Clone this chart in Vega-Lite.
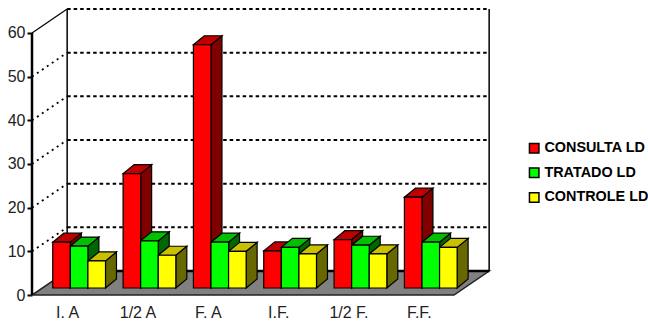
{
  "$schema": "https://vega.github.io/schema/vega-lite/v6.json",
  "width": 648,
  "height": 322,
  "padding": 0,
  "autosize": "none",
  "background": "white",
  "view": {"stroke": null},
  "config": {"font": "Liberation Sans"},
  "datasets": {
    "marcas": [{"valor": 0}, {"valor": 10}, {"valor": 20}, {"valor": 30}, {"valor": 40}, {"valor": 50}, {"valor": 60}]
  },
  "layer": [
    {
      "data": {"name": "marcas"},
      "transform": [{"filter": "datum.valor > 0"}, {"calculate": "datum.valor + 5.49", "as": "fundo"}],
      "mark": {"type": "rule", "color": "black", "strokeWidth": 2, "strokeDash": [3.5, 3]},
      "encoding": {
        "x": {"datum": 0.5, "type": "quantitative", "scale": {"domain": [-0.455, 8.7586], "nice": false, "zero": false}, "axis": {"orient": "bottom", "offset": -27, "values": [0.5, 1.5, 2.5, 3.5, 4.5, 5.5], "title": null, "domain": false, "ticks": false, "grid": false, "labelFontSize": 16, "labelColor": "#222222", "labelPadding": 9, "labelExpr": "['I. A','1/2 A','F. A','I.F.','1/2 F.','F.F.'][floor(datum.value)]"}},
        "x2": {"datum": 6.5},
        "y": {"field": "fundo", "type": "quantitative", "scale": {"domain": [-6.18, 67.55], "nice": false, "zero": false}, "axis": {"orient": "left", "offset": -32, "values": [0, 10, 20, 30, 40, 50, 60], "title": null, "domain": false, "grid": false, "tickColor": "black", "tickWidth": 2, "tickSize": 5, "labelFontSize": 16, "labelColor": "#222222", "labelPadding": 2}}
      }
    },
    {
      "data": {"name": "marcas"},
      "transform": [{"filter": "datum.valor > 0 && datum.valor < 60"}, {"calculate": "datum.valor + 5.49", "as": "fundo"}],
      "mark": {"type": "rule", "color": "black", "strokeWidth": 1.8, "strokeDash": [2, 4]},
      "encoding": {
        "x": {"datum": 0, "type": "quantitative", "scale": {"domain": [-0.455, 8.7586], "nice": false, "zero": false}},
        "x2": {"datum": 0.5},
        "y": {"field": "valor", "type": "quantitative", "scale": {"domain": [-6.18, 67.55], "nice": false, "zero": false}},
        "y2": {"field": "fundo"}
      }
    },
    {
      "data": {"name": "marcas"},
      "transform": [{"filter": "datum.valor == 60"}, {"calculate": "datum.valor + 5.49", "as": "fundo"}],
      "mark": {"type": "rule", "color": "black", "strokeWidth": 1.2},
      "encoding": {
        "x": {"datum": 0, "type": "quantitative", "scale": {"domain": [-0.455, 8.7586], "nice": false, "zero": false}},
        "x2": {"datum": 0.5},
        "y": {"field": "valor", "type": "quantitative", "scale": {"domain": [-6.18, 67.55], "nice": false, "zero": false}},
        "y2": {"field": "fundo"}
      }
    },
    {
      "data": {"values": [{"parede": 0.5}, {"parede": 6.5}]},
      "mark": {"type": "rule", "color": "black", "strokeWidth": 1.5},
      "encoding": {
        "x": {"field": "parede", "type": "quantitative", "scale": {"domain": [-0.455, 8.7586], "nice": false, "zero": false}},
        "y": {"datum": 5.49, "type": "quantitative", "scale": {"domain": [-6.18, 67.55], "nice": false, "zero": false}},
        "y2": {"datum": 65.49}
      }
    },
    {
      "data": {"values": [{"k": 0}, {"k": 1}]},
      "transform": [
        {"calculate": "datum.k * 0.5", "as": "ini"},
        {"calculate": "6 + datum.k * 0.5", "as": "fim"},
        {"calculate": "datum.k * 5.49", "as": "prof"}
      ],
      "mark": {"type": "area", "orient": "horizontal", "fill": "#808080", "stroke": "#222222", "strokeWidth": 1.5},
      "encoding": {
        "x": {"field": "ini", "type": "quantitative", "scale": {"domain": [-0.455, 8.7586], "nice": false, "zero": false}},
        "x2": {"field": "fim"},
        "y": {"field": "prof", "type": "quantitative", "scale": {"domain": [-6.18, 67.55], "nice": false, "zero": false}}
      }
    },
    {
      "data": {"values": [{}]},
      "mark": {"type": "rule", "color": "black", "strokeWidth": 2.5},
      "encoding": {
        "x": {"datum": 0.5, "type": "quantitative", "scale": {"domain": [-0.455, 8.7586], "nice": false, "zero": false}},
        "x2": {"datum": 6.5},
        "y": {"datum": 5.49, "type": "quantitative", "scale": {"domain": [-6.18, 67.55], "nice": false, "zero": false}}
      }
    },
    {
      "data": {"values": [{}]},
      "mark": {"type": "rule", "color": "black", "strokeWidth": 2.5},
      "encoding": {
        "x": {"datum": 0, "type": "quantitative", "scale": {"domain": [-0.455, 8.7586], "nice": false, "zero": false}},
        "y": {"datum": 0, "type": "quantitative", "scale": {"domain": [-6.18, 67.55], "nice": false, "zero": false}},
        "y2": {"datum": 60}
      }
    },
    {
      "data": {"values": [
        {"periodo": "I. A", "serie": "CONSULTA LD", "valor": 10.5},
        {"periodo": "I. A", "serie": "TRATADO LD", "valor": 9.6},
        {"periodo": "I. A", "serie": "CONTROLE LD", "valor": 6.2},
        {"periodo": "1/2 A", "serie": "CONSULTA LD", "valor": 26.2},
        {"periodo": "1/2 A", "serie": "TRATADO LD", "valor": 10.8},
        {"periodo": "1/2 A", "serie": "CONTROLE LD", "valor": 7.5},
        {"periodo": "F. A", "serie": "CONSULTA LD", "valor": 55.7},
        {"periodo": "F. A", "serie": "TRATADO LD", "valor": 10.5},
        {"periodo": "F. A", "serie": "CONTROLE LD", "valor": 8.4},
        {"periodo": "I.F.", "serie": "CONSULTA LD", "valor": 8.5},
        {"periodo": "I.F.", "serie": "TRATADO LD", "valor": 9.3},
        {"periodo": "I.F.", "serie": "CONTROLE LD", "valor": 7.8},
        {"periodo": "1/2 F.", "serie": "CONSULTA LD", "valor": 11.1},
        {"periodo": "1/2 F.", "serie": "TRATADO LD", "valor": 9.8},
        {"periodo": "1/2 F.", "serie": "CONTROLE LD", "valor": 7.8},
        {"periodo": "F.F.", "serie": "CONSULTA LD", "valor": 20.8},
        {"periodo": "F.F.", "serie": "TRATADO LD", "valor": 10.5},
        {"periodo": "F.F.", "serie": "CONTROLE LD", "valor": 9.3}
      ]},
      "transform": [
        {"calculate": "indexof(['I. A','1/2 A','F. A','I.F.','1/2 F.','F.F.'], datum.periodo)", "as": "grupo"},
        {"calculate": "indexof(['CONSULTA LD','TRATADO LD','CONTROLE LD'], datum.serie)", "as": "ordem"},
        {"calculate": "datum.grupo + 0.295 + datum.ordem * 0.25", "as": "esq"},
        {"calculate": "datum.esq + 0.25", "as": "dir"},
        {"calculate": "1.6 + datum.valor", "as": "topo"},
        {"calculate": "datum.periodo + '|' + datum.serie", "as": "barra"}
      ],
      "layer": [
        {
          "transform": [
            {"calculate": "[0, 1]", "as": "k"},
            {"flatten": ["k"]},
            {"calculate": "datum.dir + datum.k * 0.156", "as": "xf"},
            {"calculate": "1.6 + datum.k * 2.06", "as": "yb"},
            {"calculate": "datum.topo + datum.k * 2.06", "as": "yt"}
          ],
          "mark": {"type": "area", "stroke": "black", "strokeWidth": 1.2},
          "encoding": {
            "x": {"field": "xf", "type": "quantitative", "scale": {"domain": [-0.455, 8.7586], "nice": false, "zero": false}},
            "y": {"field": "yb", "type": "quantitative", "scale": {"domain": [-6.18, 67.55], "nice": false, "zero": false}},
            "y2": {"field": "yt"},
            "detail": {"field": "barra"},
            "fill": {"field": "serie", "type": "nominal", "legend": null, "scale": {"domain": ["CONSULTA LD", "TRATADO LD", "CONTROLE LD"], "range": ["#800000", "#006800", "#686800"]}}
          }
        },
        {
          "transform": [
            {"calculate": "[0, 1]", "as": "k"},
            {"flatten": ["k"]},
            {"calculate": "datum.esq + datum.k * 0.156", "as": "xa"},
            {"calculate": "datum.dir + datum.k * 0.156", "as": "xb"},
            {"calculate": "datum.topo + datum.k * 2.06", "as": "yt"}
          ],
          "mark": {"type": "area", "orient": "horizontal", "stroke": "black", "strokeWidth": 1.2},
          "encoding": {
            "x": {"field": "xa", "type": "quantitative", "scale": {"domain": [-0.455, 8.7586], "nice": false, "zero": false}},
            "x2": {"field": "xb"},
            "y": {"field": "yt", "type": "quantitative", "scale": {"domain": [-6.18, 67.55], "nice": false, "zero": false}},
            "detail": {"field": "barra"},
            "fill": {"field": "serie", "type": "nominal", "legend": null, "scale": {"domain": ["CONSULTA LD", "TRATADO LD", "CONTROLE LD"], "range": ["#c00000", "#00c000", "#c8c000"]}}
          }
        },
        {
          "transform": [{"calculate": "1.6", "as": "base"}],
          "mark": {"type": "bar", "stroke": "black", "strokeWidth": 1.2},
          "encoding": {
            "x": {"field": "esq", "type": "quantitative", "scale": {"domain": [-0.455, 8.7586], "nice": false, "zero": false}},
            "x2": {"field": "dir"},
            "y": {"field": "base", "type": "quantitative", "scale": {"domain": [-6.18, 67.55], "nice": false, "zero": false}},
            "y2": {"field": "topo"},
            "fill": {
              "field": "serie",
              "type": "nominal",
              "scale": {"domain": ["CONSULTA LD", "TRATADO LD", "CONTROLE LD"], "range": ["#ff0000", "#00ff00", "#ffff00"]},
              "legend": {
                "title": null,
                "orient": "none",
                "legendX": 527,
                "legendY": 141,
                "padding": 0,
                "symbolType": "square",
                "symbolSize": 90,
                "symbolStrokeColor": "black",
                "symbolStrokeWidth": 1.5,
                "labelFont": "Liberation Sans",
                "labelFontWeight": "bold",
                "labelFontSize": 14.4,
                "labelColor": "black",
                "labelOffset": 3,
                "labelLimit": 130,
                "rowPadding": 8.6
              }
            }
          }
        }
      ],
      "resolve": {"scale": {"fill": "independent"}}
    }
  ],
  "resolve": {"scale": {"fill": "independent"}}
}
